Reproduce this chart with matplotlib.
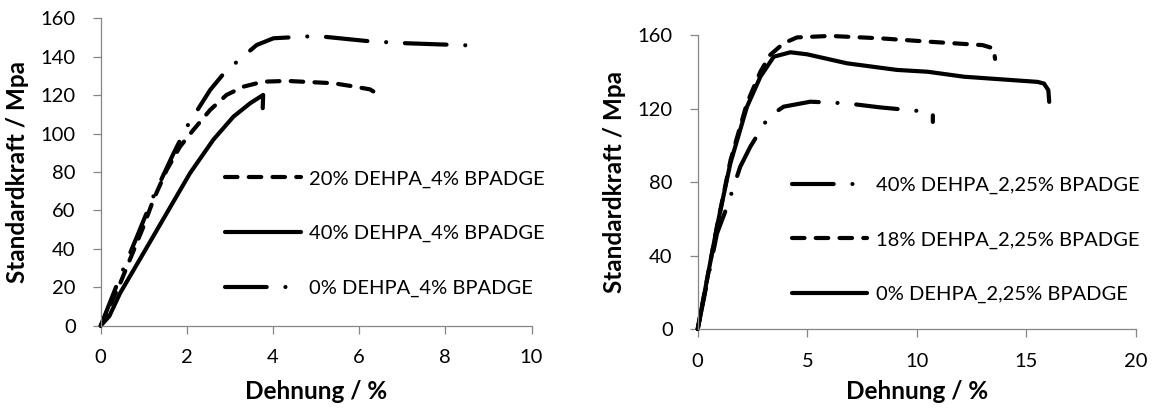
import matplotlib
matplotlib.use("Agg")
import matplotlib.pyplot as plt

plt.rcParams["font.family"] = ["Lato", "DejaVu Sans"]

# left panel: 4% BPADGE series (strain in %, stress in MPa)
x_20_4 = [0, 0.45, 0.99, 1.22, 1.53, 1.84, 2.15, 2.54, 2.92, 3.31, 3.77, 4.32, 5.4, 5.82, 6.25, 6.38]
y_20_4 = [0, 22, 51.5, 65.4, 81, 93.2, 101.9, 112.3, 120.1, 124.4, 127, 127.4, 126.2, 124.7, 123, 121.2]
x_40_4 = [0, 0.2, 0.448, 0.99, 1.53, 2.07, 2.61, 3.08, 3.47, 3.77, 3.76]
y_40_4 = [0, 5, 16.9, 37.7, 58.5, 79.3, 96.7, 108.8, 115.8, 120.1, 113.2]
x_0_4 = [0, 0.45, 0.84, 1.22, 1.69, 2.0, 2.54, 2.89, 3.62, 4.01, 5.01, 6.25, 7.1, 8.78]
y_0_4 = [0, 25.5, 46.3, 67.2, 89.7, 103.6, 122.7, 132.2, 146.1, 149.6, 150.8, 148, 147, 145.7]

# right panel: 2,25% BPADGE series
x_40_225 = [0, 0.88, 1.34, 1.94, 2.4, 3.24, 3.92, 5.14, 6.81, 8.33, 10.5, 10.73, 10.73]
y_40_225 = [0, 52, 66.6, 88.3, 99.2, 115.5, 121, 123.7, 122.8, 120.6, 118.2, 117.3, 112.7]
x_18_225 = [0, 0.9, 1.5, 2.25, 2.86, 3.3, 3.92, 4.53, 6.05, 8.33, 10.5, 13.0, 13.5, 13.57]
y_18_225 = [0, 57, 92, 123, 140, 149.1, 155.5, 158.7, 159.5, 158.2, 156.4, 154.5, 152.7, 147]
x_0_225 = [0, 0.88, 1.49, 2.25, 2.86, 3.47, 4.23, 4.99, 6.81, 9.09, 10.5, 12.15, 15.5, 15.8, 16.0, 16.04]
y_0_225 = [0, 55.7, 90.2, 121, 137.3, 148.2, 150.6, 149.5, 144.6, 141, 140, 137.3, 134.5, 133.6, 130, 123.6]

labels_left = ["20% DEHPA_4% BPADGE", "40% DEHPA_4% BPADGE", "0% DEHPA_4% BPADGE"]
labels_right = ["40% DEHPA_2,25% BPADGE", "18% DEHPA_2,25% BPADGE", "0% DEHPA_2,25% BPADGE"]

DASH = (0, (3.0, 2.7))
LONGDASH_DOT = (0, (10, 4.5, 0.01, 4.5))
SOLID = "-"
LW = 3
AXIS_GREY = "#868686"
FS = 14.5
LABEL_FS = 17.5


def style_axes(ax, xlim, xticks, ylim, yticks):
    ax.set_xlim(*xlim)
    ax.set_ylim(*ylim)
    ax.set_xticks(xticks)
    ax.set_yticks(yticks)
    for side in ("top", "right"):
        ax.spines[side].set_visible(False)
    for side in ("left", "bottom"):
        ax.spines[side].set_color(AXIS_GREY)
        ax.spines[side].set_linewidth(0.9)
    ax.tick_params(axis="both", direction="out", length=6, width=0.9,
                   color=AXIS_GREY, labelsize=FS)
    ax.tick_params(axis="y", pad=12)
    ax.tick_params(axis="x", pad=11)
    ax.set_xlabel("Dehnung / %", fontsize=LABEL_FS, fontweight="bold",
                  va="baseline")
    ax.set_ylabel("Standardkraft / Mpa", fontsize=LABEL_FS, fontweight="bold")


def draw(ax, x, y, ls, label):
    ax.plot(x, y, color="black", lw=LW, linestyle=ls, label=label,
            dash_capstyle="round", solid_capstyle="round",
            dash_joinstyle="round", solid_joinstyle="round", clip_on=False)


def add_legend(ax, anchor):
    ax.legend(loc="upper left", bbox_to_anchor=anchor, frameon=False,
              fontsize=FS, handlelength=3.75, handletextpad=0.4,
              labelspacing=1.85, borderpad=0, borderaxespad=0)


fig = plt.figure(figsize=(11.54, 4.09), dpi=100)
ax1 = fig.add_axes([0.0873, 0.2037, 0.3733, 0.7516])
ax2 = fig.add_axes([0.6046, 0.1956, 0.3798, 0.7188])

draw(ax1, x_20_4, y_20_4, DASH, labels_left[0])
draw(ax1, x_40_4, y_40_4, SOLID, labels_left[1])
draw(ax1, x_0_4, y_0_4, LONGDASH_DOT, labels_left[2])
style_axes(ax1, (0, 10), range(0, 11, 2), (0, 160), range(0, 161, 20))
ax1.yaxis.set_label_coords(-0.166, 0.5)
ax1.xaxis.set_label_coords(0.5, -0.238)
add_legend(ax1, (0.2885, 0.505))

draw(ax2, x_40_225, y_40_225, LONGDASH_DOT, labels_right[0])
draw(ax2, x_18_225, y_18_225, DASH, labels_right[1])
draw(ax2, x_0_225, y_0_225, SOLID, labels_right[2])
style_axes(ax2, (0, 20), range(0, 21, 5), (0, 160), range(0, 161, 40))
ax2.yaxis.set_label_coords(-0.164, 0.5)
ax2.xaxis.set_label_coords(0.5, -0.238)
add_legend(ax2, (0.215, 0.518))

fig.savefig("out.png", dpi=100)
